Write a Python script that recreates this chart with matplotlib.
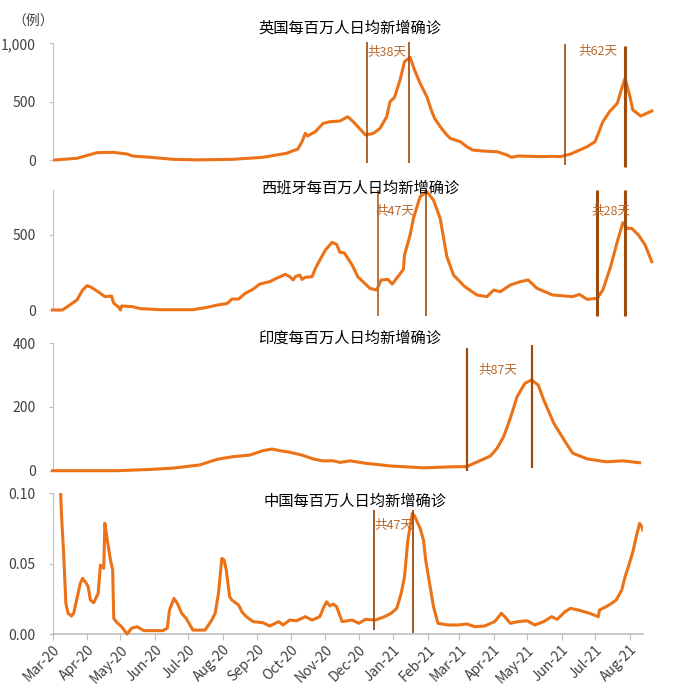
import pandas as pd
import matplotlib
matplotlib.use("Agg")
import matplotlib.pyplot as plt
import matplotlib.dates as mdates
from matplotlib.ticker import FuncFormatter
from matplotlib.patches import Rectangle

plt.rcParams["font.family"] = ["Noto Sans CJK SC", "DejaVu Sans"]

# ---------------------------------------------------------------
# Data (7-day avg new cases / million)
# ---------------------------------------------------------------
uk_dates = ["2020-03-03", "2020-03-23", "2020-04-10", "2020-04-24", "2020-05-07",
            "2020-05-12", "2020-05-28", "2020-06-17", "2020-07-09", "2020-08-10",
            "2020-09-06", "2020-09-18", "2020-09-27", "2020-10-03", "2020-10-07",
            "2020-10-11", "2020-10-14", "2020-10-16", "2020-10-23", "2020-10-30",
            "2020-11-05", "2020-11-14", "2020-11-21", "2020-11-26", "2020-12-07",
            "2020-12-14", "2020-12-20", "2020-12-26", "2020-12-29", "2021-01-02",
            "2021-01-07", "2021-01-11", "2021-01-16", "2021-01-20", "2021-01-25",
            "2021-01-31", "2021-02-04", "2021-02-07", "2021-02-12", "2021-02-18",
            "2021-02-21", "2021-03-02", "2021-03-08", "2021-03-13", "2021-03-22",
            "2021-04-04", "2021-04-13", "2021-04-17", "2021-04-23", "2021-05-13",
            "2021-05-24", "2021-05-31", "2021-06-09", "2021-06-24", "2021-07-01",
            "2021-07-04", "2021-07-08", "2021-07-14", "2021-07-21", "2021-07-25",
            "2021-07-28", "2021-08-01", "2021-08-04", "2021-08-11", "2021-08-21"]
uk_values = [0, 15, 63, 66, 51, 34, 23, 6, 1, 6,
             23, 43, 57, 80, 91, 157, 229, 206, 243, 314,
             328, 334, 371, 328, 214, 228, 271, 371, 500, 537,
             686, 843, 880, 771, 657, 543, 428, 357, 286, 214,
             186, 157, 114, 86, 77, 71, 43, 23, 34, 29,
             31, 29, 51, 114, 157, 228, 328, 414, 486, 614,
             700, 557, 428, 377, 420]

es_dates = ["2020-03-01", "2020-03-10", "2020-03-23", "2020-03-28", "2020-04-01",
            "2020-04-05", "2020-04-13", "2020-04-17", "2020-04-23", "2020-04-25",
            "2020-04-29", "2020-05-01", "2020-05-02", "2020-05-12", "2020-05-19",
            "2020-06-06", "2020-07-05", "2020-07-18", "2020-07-27", "2020-08-05",
            "2020-08-09", "2020-08-15", "2020-08-21", "2020-08-28", "2020-09-03",
            "2020-09-12", "2020-09-18", "2020-09-26", "2020-09-30", "2020-10-03",
            "2020-10-05", "2020-10-09", "2020-10-11", "2020-10-14", "2020-10-20",
            "2020-10-23", "2020-10-27", "2020-11-01", "2020-11-07", "2020-11-11",
            "2020-11-14", "2020-11-18", "2020-11-25", "2020-11-30", "2020-12-11",
            "2020-12-17", "2020-12-21", "2020-12-27", "2020-12-31", "2021-01-05",
            "2021-01-10", "2021-01-11", "2021-01-16", "2021-01-19", "2021-01-25",
            "2021-01-31", "2021-02-06", "2021-02-12", "2021-02-18", "2021-02-24",
            "2021-03-06", "2021-03-17", "2021-03-26", "2021-04-01", "2021-04-07",
            "2021-04-16", "2021-04-25", "2021-05-02", "2021-05-10", "2021-05-24",
            "2021-06-11", "2021-06-17", "2021-06-24", "2021-07-03", "2021-07-08",
            "2021-07-15", "2021-07-21", "2021-07-26", "2021-07-30", "2021-08-03",
            "2021-08-09", "2021-08-15", "2021-08-21"]
es_values = [0, 0, 67, 133, 162, 151, 111, 89, 93, 44,
             22, 0, 27, 22, 9, 2, 2, 18, 33, 44,
             73, 73, 111, 138, 173, 189, 211, 238, 222, 200,
             222, 233, 204, 218, 222, 278, 333, 400, 451, 438,
             385, 380, 300, 222, 144, 133, 200, 204, 173, 222,
             271, 367, 500, 611, 756, 789, 733, 611, 356, 233,
             156, 100, 89, 133, 122, 167, 189, 200, 144, 100,
             89, 104, 71, 78, 133, 289, 456, 582, 544, 544,
             500, 433, 322]

in_dates = ["2020-03-01", "2020-04-28", "2020-05-28", "2020-06-17", "2020-07-11",
            "2020-07-27", "2020-08-10", "2020-08-25", "2020-09-06", "2020-09-14",
            "2020-09-21", "2020-09-30", "2020-10-11", "2020-10-21", "2020-10-29",
            "2020-11-08", "2020-11-14", "2020-11-23", "2020-12-08", "2020-12-29",
            "2021-01-28", "2021-02-21", "2021-03-08", "2021-03-13", "2021-03-29",
            "2021-04-04", "2021-04-10", "2021-04-16", "2021-04-22", "2021-04-29",
            "2021-05-05", "2021-05-11", "2021-05-16", "2021-05-25", "2021-06-06",
            "2021-06-11", "2021-06-24", "2021-07-11", "2021-07-26", "2021-08-10"]
in_values = [0, 0, 4, 8, 18, 36, 44, 49, 63, 68,
             63, 58, 49, 37, 31, 31, 26, 31, 23, 15,
             9, 12, 13, 21, 46, 70, 107, 165, 232, 274,
             285, 269, 222, 149, 81, 55, 37, 28, 31, 25]

cn_dates = ["2020-03-07", "2020-03-09", "2020-03-11", "2020-03-13", "2020-03-15",
            "2020-03-18", "2020-03-20", "2020-03-23", "2020-03-26", "2020-03-28",
            "2020-03-31", "2020-04-02", "2020-04-04", "2020-04-07", "2020-04-11",
            "2020-04-13", "2020-04-16", "2020-04-17", "2020-04-19", "2020-04-22",
            "2020-04-24", "2020-04-25", "2020-04-28", "2020-05-02", "2020-05-07",
            "2020-05-11", "2020-05-16", "2020-05-22", "2020-06-08", "2020-06-12",
            "2020-06-14", "2020-06-18", "2020-06-21", "2020-06-25", "2020-06-29",
            "2020-07-05", "2020-07-16", "2020-07-22", "2020-07-25", "2020-07-28",
            "2020-07-31", "2020-08-02", "2020-08-04", "2020-08-07", "2020-08-09",
            "2020-08-15", "2020-08-18", "2020-08-22", "2020-08-28", "2020-09-06",
            "2020-09-12", "2020-09-20", "2020-09-24", "2020-09-30", "2020-10-06",
            "2020-10-14", "2020-10-20", "2020-10-27", "2020-10-30", "2020-11-02",
            "2020-11-05", "2020-11-08", "2020-11-11", "2020-11-16", "2020-11-25",
            "2020-12-01", "2020-12-07", "2020-12-16", "2020-12-24", "2020-12-30",
            "2021-01-04", "2021-01-08", "2021-01-11", "2021-01-14", "2021-01-18",
            "2021-01-20", "2021-01-25", "2021-01-28", "2021-01-30", "2021-02-03",
            "2021-02-06", "2021-02-10", "2021-02-19", "2021-02-28", "2021-03-08",
            "2021-03-15", "2021-03-24", "2021-04-02", "2021-04-08", "2021-04-11",
            "2021-04-16", "2021-04-23", "2021-05-01", "2021-05-08", "2021-05-16",
            "2021-05-23", "2021-05-28", "2021-06-04", "2021-06-09", "2021-06-16",
            "2021-06-26", "2021-07-04", "2021-07-05", "2021-07-11", "2021-07-16",
            "2021-07-20", "2021-07-25", "2021-07-28", "2021-07-31", "2021-08-04",
            "2021-08-07", "2021-08-10", "2021-08-12", "2021-08-13"]
cn_values = [0.13, 0.0858, 0.0574, 0.022, 0.0149, 0.013, 0.0149, 0.0255, 0.0362, 0.0397,
             0.0366, 0.0338, 0.0243, 0.0224, 0.029, 0.0491, 0.0468, 0.0787, 0.068, 0.0527,
             0.0456, 0.0113, 0.0082, 0.0054, 0.0002, 0.0043, 0.0054, 0.0026, 0.0026, 0.0043,
             0.0172, 0.0255, 0.022, 0.0149, 0.0113, 0.003, 0.003, 0.0101, 0.0149, 0.029,
             0.0539, 0.0527, 0.0456, 0.0267, 0.0243, 0.0208, 0.016, 0.0125, 0.009, 0.0082,
             0.0059, 0.009, 0.0066, 0.0101, 0.0096, 0.0125, 0.0101, 0.0125, 0.0184, 0.0231,
             0.0201, 0.0215, 0.0196, 0.009, 0.0101, 0.0078, 0.0106, 0.0101, 0.0125, 0.0149,
             0.0184, 0.029, 0.0409, 0.0669, 0.0858, 0.0839, 0.0752, 0.0669, 0.0527, 0.0338,
             0.0196, 0.0078, 0.0066, 0.0066, 0.0073, 0.0054, 0.0059, 0.009, 0.0149, 0.0125,
             0.0078, 0.009, 0.0096, 0.0066, 0.009, 0.0125, 0.0106, 0.016, 0.0184, 0.0172,
             0.0149, 0.0125, 0.0172, 0.0196, 0.022, 0.0243, 0.0314, 0.0409, 0.048, 0.0586,
             0.0692, 0.0787, 0.0763, 0.0740]

# wave markers: start / peak dates and the "共N天" notes
uk_marks = ["2020-12-08", "2021-01-15", "2021-06-04", "2021-07-28"]
es_marks = ["2020-12-18", "2021-01-30", "2021-07-03", "2021-07-28"]
in_marks = ["2021-03-08", "2021-05-05"]
cn_marks = ["2020-12-15", "2021-01-19"]

uk_notes = ["共38天", "共62天"]
es_notes = ["共47天", "共28天"]
in_notes = ["共87天"]
cn_notes = ["共47天"]

titles = ["英国每百万人日均新增确诊", "西班牙每百万人日均新增确诊",
          "印度每百万人日均新增确诊", "中国每百万人日均新增确诊"]

# ---------------------------------------------------------------
# Styling
# ---------------------------------------------------------------
ORANGE = "#EC7217"
BROWN = "#9E4A0C"
NOTE = "#B8672A"
GREY = "#BFBFBF"
TXT = "#404040"

W, H = 675, 695
X0 = 52.5          # pixel of 2020-03-01
PX_DAY = 1.114     # pixels per day
START = pd.Timestamp("2020-03-01")

fig = plt.figure(figsize=(W / 100, H / 100), dpi=100)


def make_axes(top, bottom, ndays):
    right = X0 + ndays * PX_DAY
    ax = fig.add_axes([X0 / W, 1 - bottom / H, (right - X0) / W, (bottom - top) / H])
    ax.set_xlim(START, START + pd.Timedelta(days=ndays))
    for s in ["top", "right"]:
        ax.spines[s].set_visible(False)
    ax.spines["left"].set_color(GREY)
    ax.spines["bottom"].set_color(GREY)
    ax.spines["bottom"].set_linewidth(1.2)
    ax.tick_params(axis="y", colors=GREY, labelcolor=TXT, labelsize=10,
                   length=3, width=0.8, pad=9)
    ax.xaxis.set_major_locator(mdates.MonthLocator())
    ax.xaxis.set_major_formatter(mdates.DateFormatter("%b-%y"))
    return ax


def hide_x(ax):
    ax.spines["bottom"].set_visible(False)
    ax.tick_params(axis="x", bottom=False, labelbottom=False)


def draw(ax, dates, values, clip_top=False):
    line, = ax.plot(pd.to_datetime(dates), values, color=ORANGE, lw=2.2,
                    solid_joinstyle="round", zorder=3)
    if clip_top:
        rect = Rectangle((0, -0.05), 1, 1.05, transform=ax.transAxes,
                         facecolor="none", edgecolor="none")
        line.set_clip_path(rect)
    else:
        line.set_clip_on(False)


def marks(ax, dates, lows, highs, widths, colors):
    for d, lo, hi, w, c in zip(pd.to_datetime(dates), lows, highs, widths, colors):
        ax.vlines(d, lo, hi, colors=c, linewidth=w, clip_on=False, zorder=4)


def notes(ax, texts, dates, ys):
    for t, d, y in zip(texts, pd.to_datetime(dates), ys):
        ax.text(d, y, t, color=NOTE, fontsize=9, ha="center", va="center", zorder=5)


# --- UK ---
ax1 = make_axes(43.3, 160, 540)
hide_x(ax1)
ax1.set_ylim(0, 1000)
ax1.set_yticks([0, 500, 1000])
ax1.yaxis.set_major_formatter(FuncFormatter(lambda v, p: f"{v:,.0f}"))
draw(ax1, uk_dates, uk_values)
marks(ax1, uk_marks, [-26, -26, -43, -60], [1011, 1011, 994, 977],
      [1.2, 1.2, 1.2, 2.2], [BROWN, BROWN, BROWN, BROWN])
notes(ax1, uk_notes, ["2020-12-26", "2021-07-04"], [925, 934])

# --- Spain ---
ax2 = make_axes(190, 310, 540)
hide_x(ax2)
ax2.set_ylim(0, 800)
ax2.set_yticks([0, 500])
draw(ax2, es_dates, es_values)
marks(ax2, es_marks, [-40, -40, -40, -40], [800, 800, 800, 800],
      [1.4, 1.2, 2.2, 2.2], ["#B8743C", BROWN, BROWN, BROWN])
notes(ax2, es_notes, ["2021-01-02", "2021-07-15"], [655, 660])

# --- India ---
ax3 = make_axes(343.3, 470.7, 540)
hide_x(ax3)
ax3.set_ylim(0, 400)
ax3.set_yticks([0, 200, 400])
draw(ax3, in_dates, in_values)
marks(ax3, in_marks, [-1, 8], [385, 395], [1.6, 1.6], [BROWN, BROWN])
notes(ax3, in_notes, ["2021-04-05"], [316])

# --- China ---
ax4 = make_axes(493.3, 634.3, 530)
ax4.set_ylim(0, 0.1)
ax4.set_yticks([0, 0.05, 0.1])
ax4.yaxis.set_major_formatter(FuncFormatter(lambda v, p: f"{v:.2f}"))
ax4.tick_params(axis="x", colors=GREY, labelcolor=TXT, labelsize=10,
                length=4, width=0.8, pad=2)
for lab in ax4.get_xticklabels():
    lab.set_rotation(45)
    lab.set_ha("right")
    lab.set_rotation_mode("anchor")
draw(ax4, cn_dates, cn_values, clip_top=True)
marks(ax4, cn_marks, [0.003, 0.001], [0.088, 0.088], [1.3, 1.3], [BROWN, BROWN])
notes(ax4, cn_notes, ["2021-01-01"], [0.077])

# titles and unit label
title_pos = [(350, 28), (360, 188), (350, 338), (355, 501)]
for t, (x, y) in zip(titles, title_pos):
    fig.text(x / W, 1 - y / H, t, fontsize=11, color="black", ha="center", va="center")
fig.text(33 / W, 1 - 21 / H, "（例）", fontsize=10, color=TXT, ha="center", va="center")

fig.savefig("out.png", dpi=100)
